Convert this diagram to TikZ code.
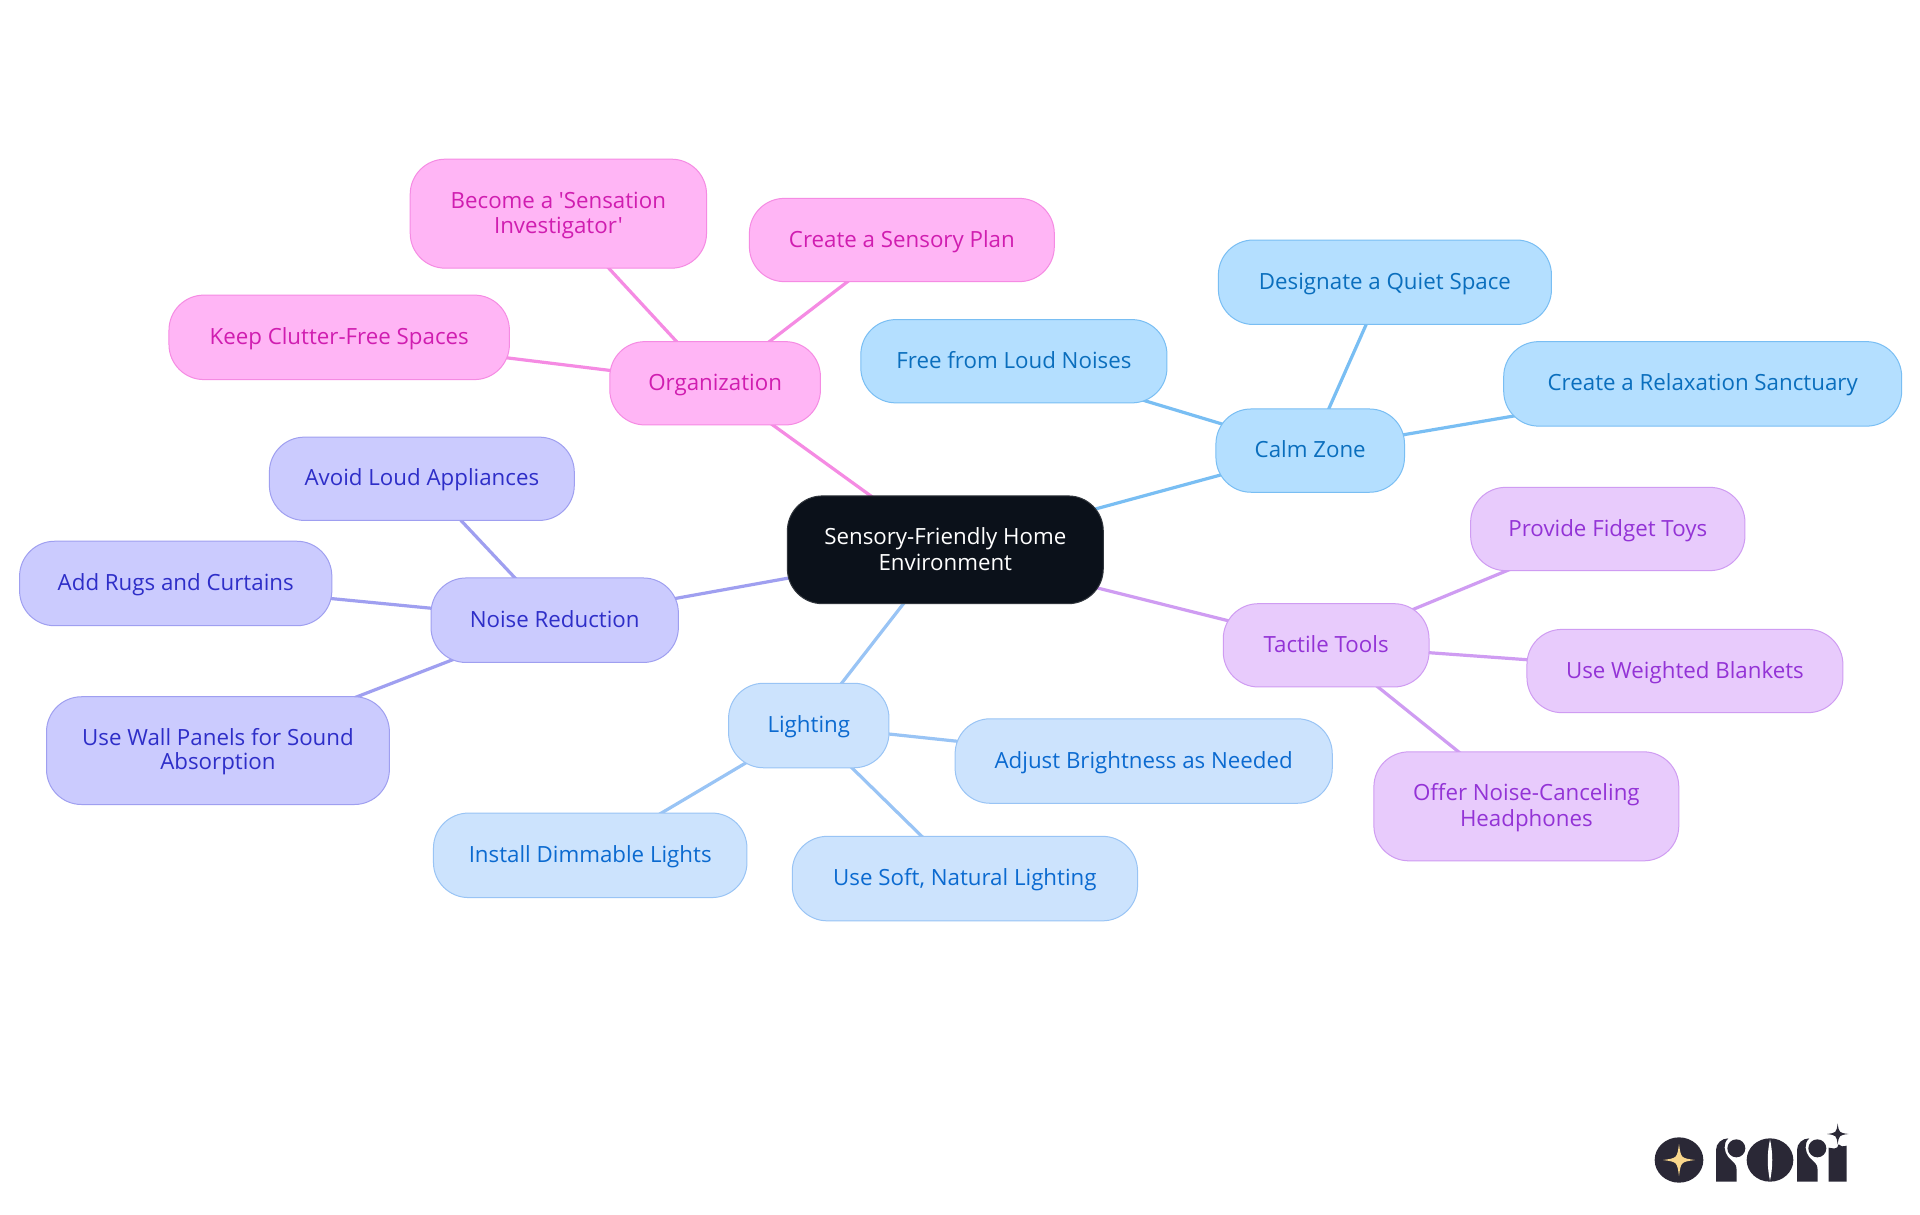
\documentclass[tikz,border=0pt]{standalone}
\usepackage{fontspec}
\newfontfamily\mmfont{Open Sans}
\pgfdeclarelayer{back}
\pgfsetlayers{back,main}
\definecolor{rootc}{HTML}{0B111A}
\definecolor{calmf}{HTML}{B4DFFF}\definecolor{calml}{HTML}{79BEF3}\definecolor{calmt}{HTML}{0A6EBD}
\definecolor{tactf}{HTML}{E8CBFC}\definecolor{tactl}{HTML}{CF9CF2}\definecolor{tactt}{HTML}{9333D6}
\definecolor{lighf}{HTML}{CCE3FD}\definecolor{lighl}{HTML}{99C4F5}\definecolor{light}{HTML}{0B6AD0}
\definecolor{noisf}{HTML}{CBCBFE}\definecolor{noisl}{HTML}{9F9FF0}\definecolor{noist}{HTML}{2E2EC8}
\definecolor{orgaf}{HTML}{FFB5F5}\definecolor{orgal}{HTML}{F58BE3}\definecolor{orgat}{HTML}{D01DB0}
\definecolor{logod}{HTML}{2A2836}\definecolor{logoy}{HTML}{F9D78C}
\tikzset{
 mm/.style={rounded corners=35pt,line width=1pt,align=center,inner sep=0pt,
   font=\mmfont\fontsize{22.3}{24.5}\selectfont},
 rootn/.style={mm,fill=rootc,draw=rootc!85!white,text=white},
 calm/.style={mm,fill=calmf,draw=calml,text=calmt},
 tact/.style={mm,fill=tactf,draw=tactl,text=tactt},
 ligh/.style={mm,fill=lighf,draw=lighl,text=light},
 nois/.style={mm,fill=noisf,draw=noisl,text=noist},
 orga/.style={mm,fill=orgaf,draw=orgal,text=orgat},
 lk/.style={line width=3.2pt},
}
\newcommand{\mmstrut}{\rule[-4.95pt]{0pt}{24.5pt}}
% name, style, left, right, top, bottom (in 1568-wide coordinates), text
\newcommand{\mmnode}[7]{%
 \pgfmathsetlengthmacro{\mmw}{(#4-#3)*1.2245pt}%
 \pgfmathsetlengthmacro{\mmh}{(#6-#5)*1.2245pt}%
 \pgfmathsetmacro{\mmx}{(#3+#4)/2}%
 \pgfmathsetmacro{\mmy}{(#5+#6)/2}%
 \node[#2,minimum width=\mmw,minimum height=\mmh] (#1) at (\mmx,\mmy) {\mmstrut #7\mmstrut};}
\newcommand{\fourstar}[4]{% colour, cx, cy, r
 \fill[#1] (#2,#3-#4) .. controls (#2+.12*#4,#3-.12*#4) .. (#2+#4,#3)
   .. controls (#2+.12*#4,#3+.12*#4) .. (#2,#3+#4)
   .. controls (#2-.12*#4,#3+.12*#4) .. (#2-#4,#3)
   .. controls (#2-.12*#4,#3-.12*#4) .. cycle;}
\begin{document}
\begin{tikzpicture}[x=1.2245pt,y=-1.2245pt]
\begin{pgfonlayer}{back}
\fill[white] (0pt,0pt) rectangle (1920pt,-1215pt);
\end{pgfonlayer}
\path[use as bounding box] (0pt,0pt) rectangle (1920pt,-1215pt);
\mmnode{root}{rootn}{643}{901}{405}{493}{Sensory-Friendly Home\\Environment}
\mmnode{calm}{calm}{993}{1147}{334}{402}{Calm Zone}
\mmnode{quiet}{calm}{995}{1267}{196}{265}{Designate a Quiet Space}
\mmnode{relax}{calm}{1228}{1553}{279}{348}{Create a Relaxation Sanctuary}
\mmnode{loud}{calm}{703}{953}{261}{329}{Free from Loud Noises}
\mmnode{tact}{tact}{999}{1167}{493}{561}{Tactile Tools}
\mmnode{fidget}{tact}{1201}{1425}{398}{466}{Provide Fidget Toys}
\mmnode{blank}{tact}{1247}{1505}{514}{582}{Use Weighted Blankets}
\mmnode{phones}{tact}{1122}{1371}{614}{703}{Offer Noise-Canceling\\Headphones}
\mmnode{ligh}{ligh}{595}{726}{558}{627}{Lighting}
\mmnode{bright}{ligh}{780}{1088}{587}{656}{Adjust Brightness as Needed}
\mmnode{soft}{ligh}{647}{929}{683}{752}{Use Soft, Natural Lighting}
\mmnode{dim}{ligh}{354}{610}{664}{733}{Install Dimmable Lights}
\mmnode{nois}{nois}{352}{554}{472}{541}{Noise Reduction}
\mmnode{appl}{nois}{220}{469}{357}{425}{Avoid Loud Appliances}
\mmnode{rugs}{nois}{16}{271}{442}{511}{Add Rugs and Curtains}
\mmnode{wall}{nois}{38}{318}{569}{657}{Use Wall Panels for Sound\\Absorption}
\mmnode{orga}{orga}{498}{670}{279}{347}{Organization}
\mmnode{invest}{orga}{335}{577}{130}{219}{Become a 'Sensation\\Investigator'}
\mmnode{plan}{orga}{612}{861}{162}{230}{Create a Sensory Plan}
\mmnode{clutter}{orga}{138}{416}{241}{310}{Keep Clutter-Free Spaces}
\begin{pgfonlayer}{back}
 \foreach \a/\b in {root/calm,calm/quiet,calm/relax,calm/loud}
   \draw[lk,calml] (\a.center) -- (\b.center);
 \foreach \a/\b in {root/tact,tact/fidget,tact/blank,tact/phones}
   \draw[lk,tactl] (\a.center) -- (\b.center);
 \foreach \a/\b in {root/ligh,ligh/bright,ligh/soft,ligh/dim}
   \draw[lk,lighl] (\a.center) -- (\b.center);
 \foreach \a/\b in {root/nois,nois/appl,nois/rugs,nois/wall}
   \draw[lk,noisl] (\a.center) -- (\b.center);
 \foreach \a/\b in {root/orga,orga/invest,orga/plan,orga/clutter}
   \draw[lk,orgal] (\a.center) -- (\b.center);
\end{pgfonlayer}
% logo, drawn in the coordinates of a 3x crop at (1600,1080)
\begin{scope}[shift={(1600pt,-1080pt)},x=.33333pt,y=-.33333pt]
 \fill[logod] (237,240) ellipse (73 and 68);
 \fourstar{logoy}{237}{240}{48}
 \foreach \d in {0,243}{
  \begin{scope}[xshift=\d*.33333pt]
  \fill[logod] (348,305) -- (348,210) .. controls (348,190) and (365,175) .. (385,175)
    .. controls (368,190) and (372,215) .. (385,232)
    .. controls (400,248) and (410,250) .. (410,270) -- (410,305) -- cycle;
  \fill[logod] (409,205) circle (27);
  \end{scope}}
 \fill[logod] (510,240) ellipse (70 and 65);
 \fill[white] (510,178) .. controls (501,220) and (501,260) .. (510,302)
    .. controls (519,260) and (519,220) .. (510,178) -- cycle;
 \fill[logod] (686,305) -- (686,203) .. controls (700,205) and (712,210) .. (716,193)
    .. controls (720,200) and (730,200) .. (740,197) -- (740,305) -- cycle;
 \fourstar{logod}{713}{162}{32}
\end{scope}
\end{tikzpicture}
\end{document}
